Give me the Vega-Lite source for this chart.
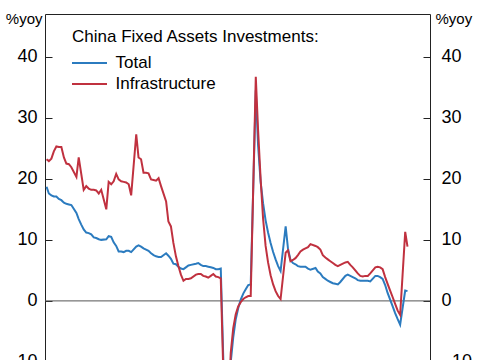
{
  "$schema": "https://vega.github.io/schema/vega-lite/v6.json",
  "width": 385,
  "height": 351,
  "autosize": "none",
  "padding": {"left": 45, "top": 14, "right": 55, "bottom": 0},
  "config": {"view": {"stroke": "#222222", "strokeWidth": 1}, "font": "Liberation Sans"},
  "resolve": {"scale": {"y": "independent"}},
  "layer": [
    {
      "data": {"values": [{"z": 0}]},
      "mark": {"type": "rule", "color": "#555555", "strokeWidth": 1},
      "encoding": {
        "y": {
          "field": "z", "type": "quantitative",
          "scale": {"domain": [-10.5, 47], "nice": false, "zero": false},
          "axis": {"orient": "left", "values": [-10, 0, 10, 20, 30, 40], "grid": false, "domain": false,
            "tickColor": "#222222", "tickSize": -7, "labelPadding": 15, "labelFontSize": 18, "labelColor": "black",
            "labelFont": "Liberation Sans", "title": "%yoy", "titleAngle": 0, "titleX": -3, "titleY": 9,
            "titleAlign": "right", "titleBaseline": "alphabetic", "titleFontSize": 15, "titleFontWeight": "normal",
            "titleColor": "black", "titleFont": "Liberation Sans"}
        }
      }
    },
    {
      "data": {"values": [
        {"d":"2014-02","s":"Total","v":18.7},{"d":"2014-03","s":"Total","v":17.6},{"d":"2014-04","s":"Total","v":17.3},{"d":"2014-05","s":"Total","v":17.1},{"d":"2014-06","s":"Total","v":17.1},{"d":"2014-07","s":"Total","v":16.7},{"d":"2014-08","s":"Total","v":16.5},{"d":"2014-09","s":"Total","v":16.1},{"d":"2014-10","s":"Total","v":15.9},{"d":"2014-11","s":"Total","v":15.8},{"d":"2014-12","s":"Total","v":15.7},
        {"d":"2015-02","s":"Total","v":14.4},{"d":"2015-03","s":"Total","v":13.4},{"d":"2015-04","s":"Total","v":12.5},{"d":"2015-05","s":"Total","v":11.7},{"d":"2015-06","s":"Total","v":11.2},{"d":"2015-07","s":"Total","v":11.1},{"d":"2015-08","s":"Total","v":10.9},{"d":"2015-09","s":"Total","v":10.4},{"d":"2015-10","s":"Total","v":10.3},{"d":"2015-11","s":"Total","v":10.1},{"d":"2015-12","s":"Total","v":10.0},
        {"d":"2016-02","s":"Total","v":10.1},{"d":"2016-03","s":"Total","v":10.6},{"d":"2016-04","s":"Total","v":10.5},{"d":"2016-05","s":"Total","v":9.6},{"d":"2016-06","s":"Total","v":9.0},{"d":"2016-07","s":"Total","v":8.1},{"d":"2016-08","s":"Total","v":8.1},{"d":"2016-09","s":"Total","v":8.0},{"d":"2016-10","s":"Total","v":8.2},{"d":"2016-11","s":"Total","v":8.2},{"d":"2016-12","s":"Total","v":8.0},
        {"d":"2017-02","s":"Total","v":8.9},{"d":"2017-03","s":"Total","v":9.1},{"d":"2017-04","s":"Total","v":8.9},{"d":"2017-05","s":"Total","v":8.6},{"d":"2017-06","s":"Total","v":8.4},{"d":"2017-07","s":"Total","v":8.2},{"d":"2017-08","s":"Total","v":7.8},{"d":"2017-09","s":"Total","v":7.5},{"d":"2017-10","s":"Total","v":7.3},{"d":"2017-11","s":"Total","v":7.2},{"d":"2017-12","s":"Total","v":7.2},
        {"d":"2018-02","s":"Total","v":7.8},{"d":"2018-03","s":"Total","v":7.4},{"d":"2018-04","s":"Total","v":6.9},{"d":"2018-05","s":"Total","v":6.1},{"d":"2018-06","s":"Total","v":6.0},{"d":"2018-07","s":"Total","v":5.6},{"d":"2018-08","s":"Total","v":5.3},{"d":"2018-09","s":"Total","v":5.2},{"d":"2018-10","s":"Total","v":5.5},{"d":"2018-11","s":"Total","v":5.8},{"d":"2018-12","s":"Total","v":5.9},
        {"d":"2019-02","s":"Total","v":6.1},{"d":"2019-03","s":"Total","v":6.2},{"d":"2019-04","s":"Total","v":5.9},{"d":"2019-05","s":"Total","v":5.7},{"d":"2019-06","s":"Total","v":5.7},{"d":"2019-07","s":"Total","v":5.6},{"d":"2019-08","s":"Total","v":5.5},{"d":"2019-09","s":"Total","v":5.4},{"d":"2019-10","s":"Total","v":5.2},{"d":"2019-11","s":"Total","v":5.2},{"d":"2019-12","s":"Total","v":5.3},
        {"d":"2020-02","s":"Total","v":-24.5},{"d":"2020-03","s":"Total","v":-16},{"d":"2020-04","s":"Total","v":-10},{"d":"2020-05","s":"Total","v":-6},{"d":"2020-06","s":"Total","v":-3},{"d":"2020-07","s":"Total","v":-1.2},{"d":"2020-08","s":"Total","v":0.2},{"d":"2020-09","s":"Total","v":1.2},{"d":"2020-10","s":"Total","v":1.9},{"d":"2020-11","s":"Total","v":2.6},{"d":"2020-12","s":"Total","v":2.7},
        {"d":"2021-02","s":"Total","v":34.5},{"d":"2021-03","s":"Total","v":25.5},{"d":"2021-04","s":"Total","v":19.5},{"d":"2021-05","s":"Total","v":16.0},{"d":"2021-06","s":"Total","v":13.2},{"d":"2021-07","s":"Total","v":11.2},{"d":"2021-08","s":"Total","v":9.5},{"d":"2021-09","s":"Total","v":8.0},{"d":"2021-10","s":"Total","v":6.8},{"d":"2021-11","s":"Total","v":5.7},{"d":"2021-12","s":"Total","v":4.9},
        {"d":"2022-02","s":"Total","v":12.2},{"d":"2022-03","s":"Total","v":8.6},{"d":"2022-04","s":"Total","v":6.7},{"d":"2022-05","s":"Total","v":6.2},{"d":"2022-06","s":"Total","v":6.0},{"d":"2022-07","s":"Total","v":5.7},{"d":"2022-08","s":"Total","v":5.6},{"d":"2022-09","s":"Total","v":5.6},{"d":"2022-10","s":"Total","v":5.6},{"d":"2022-11","s":"Total","v":5.3},{"d":"2022-12","s":"Total","v":5.1},
        {"d":"2023-02","s":"Total","v":5.4},{"d":"2023-03","s":"Total","v":4.8},{"d":"2023-04","s":"Total","v":4.5},{"d":"2023-05","s":"Total","v":3.9},{"d":"2023-06","s":"Total","v":3.6},{"d":"2023-07","s":"Total","v":3.3},{"d":"2023-08","s":"Total","v":3.1},{"d":"2023-09","s":"Total","v":2.9},{"d":"2023-10","s":"Total","v":2.8},{"d":"2023-11","s":"Total","v":2.7},{"d":"2023-12","s":"Total","v":3.1},
        {"d":"2024-02","s":"Total","v":4.1},{"d":"2024-03","s":"Total","v":4.3},{"d":"2024-04","s":"Total","v":4.1},{"d":"2024-05","s":"Total","v":3.9},{"d":"2024-06","s":"Total","v":3.7},{"d":"2024-07","s":"Total","v":3.4},{"d":"2024-08","s":"Total","v":3.3},{"d":"2024-09","s":"Total","v":3.3},{"d":"2024-10","s":"Total","v":3.3},{"d":"2024-11","s":"Total","v":3.3},{"d":"2024-12","s":"Total","v":3.2},
        {"d":"2025-02","s":"Total","v":4.1},{"d":"2025-03","s":"Total","v":4.1},{"d":"2025-04","s":"Total","v":3.9},{"d":"2025-05","s":"Total","v":3.6},{"d":"2025-06","s":"Total","v":2.6},{"d":"2025-07","s":"Total","v":1.3},{"d":"2025-08","s":"Total","v":0.2},{"d":"2025-09","s":"Total","v":-0.9},{"d":"2025-10","s":"Total","v":-2.0},{"d":"2025-11","s":"Total","v":-3.0},{"d":"2025-12","s":"Total","v":-3.9},
        {"d":"2026-02","s":"Total","v":1.7},{"d":"2026-03","s":"Total","v":1.6},
        {"d":"2014-02","s":"Infrastructure","v":23.2},{"d":"2014-03","s":"Infrastructure","v":22.9},{"d":"2014-04","s":"Infrastructure","v":23.3},{"d":"2014-05","s":"Infrastructure","v":24.5},{"d":"2014-06","s":"Infrastructure","v":25.3},{"d":"2014-07","s":"Infrastructure","v":25.2},{"d":"2014-08","s":"Infrastructure","v":25.2},{"d":"2014-09","s":"Infrastructure","v":23.5},{"d":"2014-10","s":"Infrastructure","v":22.5},{"d":"2014-11","s":"Infrastructure","v":22.4},{"d":"2014-12","s":"Infrastructure","v":21.9},
        {"d":"2015-02","s":"Infrastructure","v":20.3},{"d":"2015-03","s":"Infrastructure","v":23.5},{"d":"2015-04","s":"Infrastructure","v":20.8},{"d":"2015-05","s":"Infrastructure","v":18.2},{"d":"2015-06","s":"Infrastructure","v":18.8},{"d":"2015-07","s":"Infrastructure","v":18.4},{"d":"2015-08","s":"Infrastructure","v":18.2},{"d":"2015-09","s":"Infrastructure","v":18.2},{"d":"2015-10","s":"Infrastructure","v":18.1},{"d":"2015-11","s":"Infrastructure","v":17.6},{"d":"2015-12","s":"Infrastructure","v":18.2},
        {"d":"2016-02","s":"Infrastructure","v":15.0},{"d":"2016-03","s":"Infrastructure","v":19.5},{"d":"2016-04","s":"Infrastructure","v":19.1},{"d":"2016-05","s":"Infrastructure","v":19.6},{"d":"2016-06","s":"Infrastructure","v":20.8},{"d":"2016-07","s":"Infrastructure","v":19.9},{"d":"2016-08","s":"Infrastructure","v":19.6},{"d":"2016-09","s":"Infrastructure","v":19.5},{"d":"2016-10","s":"Infrastructure","v":19.4},{"d":"2016-11","s":"Infrastructure","v":19.1},{"d":"2016-12","s":"Infrastructure","v":17.3},
        {"d":"2017-02","s":"Infrastructure","v":27.3},{"d":"2017-03","s":"Infrastructure","v":23.5},{"d":"2017-04","s":"Infrastructure","v":23.2},{"d":"2017-05","s":"Infrastructure","v":21.0},{"d":"2017-06","s":"Infrastructure","v":21.0},{"d":"2017-07","s":"Infrastructure","v":20.9},{"d":"2017-08","s":"Infrastructure","v":19.9},{"d":"2017-09","s":"Infrastructure","v":19.8},{"d":"2017-10","s":"Infrastructure","v":19.7},{"d":"2017-11","s":"Infrastructure","v":20.1},{"d":"2017-12","s":"Infrastructure","v":18.8},
        {"d":"2018-02","s":"Infrastructure","v":16.3},{"d":"2018-03","s":"Infrastructure","v":13.0},{"d":"2018-04","s":"Infrastructure","v":12.2},{"d":"2018-05","s":"Infrastructure","v":9.5},{"d":"2018-06","s":"Infrastructure","v":7.3},{"d":"2018-07","s":"Infrastructure","v":5.7},{"d":"2018-08","s":"Infrastructure","v":4.3},{"d":"2018-09","s":"Infrastructure","v":3.3},{"d":"2018-10","s":"Infrastructure","v":3.6},{"d":"2018-11","s":"Infrastructure","v":3.6},{"d":"2018-12","s":"Infrastructure","v":3.7},
        {"d":"2019-02","s":"Infrastructure","v":4.3},{"d":"2019-03","s":"Infrastructure","v":4.4},{"d":"2019-04","s":"Infrastructure","v":4.4},{"d":"2019-05","s":"Infrastructure","v":4.1},{"d":"2019-06","s":"Infrastructure","v":4.0},{"d":"2019-07","s":"Infrastructure","v":3.8},{"d":"2019-08","s":"Infrastructure","v":4.1},{"d":"2019-09","s":"Infrastructure","v":4.4},{"d":"2019-10","s":"Infrastructure","v":4.0},{"d":"2019-11","s":"Infrastructure","v":3.9},{"d":"2019-12","s":"Infrastructure","v":3.7},
        {"d":"2020-02","s":"Infrastructure","v":-27},{"d":"2020-03","s":"Infrastructure","v":-18},{"d":"2020-04","s":"Infrastructure","v":-8.5},{"d":"2020-05","s":"Infrastructure","v":-4.5},{"d":"2020-06","s":"Infrastructure","v":-2.2},{"d":"2020-07","s":"Infrastructure","v":-0.9},{"d":"2020-08","s":"Infrastructure","v":-0.2},{"d":"2020-09","s":"Infrastructure","v":0.3},{"d":"2020-10","s":"Infrastructure","v":0.6},{"d":"2020-11","s":"Infrastructure","v":0.8},{"d":"2020-12","s":"Infrastructure","v":0.8},
        {"d":"2021-02","s":"Infrastructure","v":36.7},{"d":"2021-03","s":"Infrastructure","v":28},{"d":"2021-04","s":"Infrastructure","v":20},{"d":"2021-05","s":"Infrastructure","v":13.5},{"d":"2021-06","s":"Infrastructure","v":9.0},{"d":"2021-07","s":"Infrastructure","v":6.3},{"d":"2021-08","s":"Infrastructure","v":4.2},{"d":"2021-09","s":"Infrastructure","v":2.7},{"d":"2021-10","s":"Infrastructure","v":1.6},{"d":"2021-11","s":"Infrastructure","v":0.8},{"d":"2021-12","s":"Infrastructure","v":0.3},
        {"d":"2022-02","s":"Infrastructure","v":7.9},{"d":"2022-03","s":"Infrastructure","v":8.3},{"d":"2022-04","s":"Infrastructure","v":6.5},{"d":"2022-05","s":"Infrastructure","v":6.7},{"d":"2022-06","s":"Infrastructure","v":7.0},{"d":"2022-07","s":"Infrastructure","v":7.5},{"d":"2022-08","s":"Infrastructure","v":8.1},{"d":"2022-09","s":"Infrastructure","v":8.4},{"d":"2022-10","s":"Infrastructure","v":8.6},{"d":"2022-11","s":"Infrastructure","v":8.8},{"d":"2022-12","s":"Infrastructure","v":9.3},
        {"d":"2023-02","s":"Infrastructure","v":9.0},{"d":"2023-03","s":"Infrastructure","v":8.8},{"d":"2023-04","s":"Infrastructure","v":8.4},{"d":"2023-05","s":"Infrastructure","v":7.5},{"d":"2023-06","s":"Infrastructure","v":7.1},{"d":"2023-07","s":"Infrastructure","v":6.8},{"d":"2023-08","s":"Infrastructure","v":6.5},{"d":"2023-09","s":"Infrastructure","v":6.2},{"d":"2023-10","s":"Infrastructure","v":5.9},{"d":"2023-11","s":"Infrastructure","v":5.7},{"d":"2023-12","s":"Infrastructure","v":5.9},
        {"d":"2024-02","s":"Infrastructure","v":6.3},{"d":"2024-03","s":"Infrastructure","v":6.4},{"d":"2024-04","s":"Infrastructure","v":5.9},{"d":"2024-05","s":"Infrastructure","v":5.5},{"d":"2024-06","s":"Infrastructure","v":5.0},{"d":"2024-07","s":"Infrastructure","v":4.5},{"d":"2024-08","s":"Infrastructure","v":4.1},{"d":"2024-09","s":"Infrastructure","v":4.0},{"d":"2024-10","s":"Infrastructure","v":4.1},{"d":"2024-11","s":"Infrastructure","v":4.1},{"d":"2024-12","s":"Infrastructure","v":4.5},
        {"d":"2025-02","s":"Infrastructure","v":5.5},{"d":"2025-03","s":"Infrastructure","v":5.6},{"d":"2025-04","s":"Infrastructure","v":5.5},{"d":"2025-05","s":"Infrastructure","v":5.2},{"d":"2025-06","s":"Infrastructure","v":3.9},{"d":"2025-07","s":"Infrastructure","v":2.8},{"d":"2025-08","s":"Infrastructure","v":1.7},{"d":"2025-09","s":"Infrastructure","v":0.6},{"d":"2025-10","s":"Infrastructure","v":-0.5},{"d":"2025-11","s":"Infrastructure","v":-1.6},{"d":"2025-12","s":"Infrastructure","v":-2.3},
        {"d":"2026-02","s":"Infrastructure","v":11.3},{"d":"2026-03","s":"Infrastructure","v":8.9}
      ]},
      "mark": {"type": "line", "strokeWidth": 2},
      "encoding": {
        "x": {"field": "d", "type": "temporal", "scale": {"domain": ["2014-01-13", "2026-12-01"]}, "axis": null},
        "y": {
          "field": "v", "type": "quantitative",
          "scale": {"domain": [-10.5, 47], "nice": false, "zero": false},
          "axis": {"orient": "right", "values": [-10, 0, 10, 20, 30, 40], "grid": false, "domain": false,
            "tickColor": "#222222", "tickSize": -7, "labelPadding": 18, "labelFontSize": 18, "labelColor": "black",
            "labelFont": "Liberation Sans", "title": "%yoy", "titleAngle": 0, "titleX": 5, "titleY": 9,
            "titleAlign": "left", "titleBaseline": "alphabetic", "titleFontSize": 15, "titleFontWeight": "normal",
            "titleColor": "black", "titleFont": "Liberation Sans"}
        },
        "color": {
          "field": "s", "type": "nominal",
          "scale": {"domain": ["Total", "Infrastructure"], "range": ["#2b7bbf", "#c0313f"]},
          "legend": {"orient": "none", "legendX": 27, "legendY": 15, "title": "China Fixed Assets Investments:",
            "titleFontSize": 17, "titleFontWeight": "normal", "titleColor": "black", "titleFont": "Liberation Sans",
            "titleLimit": 400, "titlePadding": 7, "labelFontSize": 17, "labelColor": "black", "labelFont": "Liberation Sans",
            "symbolType": "M-2,0H2", "symbolSize": 306, "symbolStrokeWidth": 2, "symbolOffset": 7.5, "labelOffset": 16, "rowPadding": 3}
        }
      }
    }
  ]
}
